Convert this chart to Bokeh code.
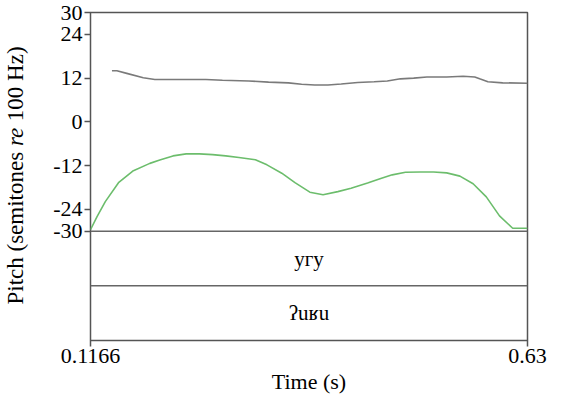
import math
from bokeh.plotting import figure
from bokeh.layouts import row
from bokeh.models import Range1d, FixedTicker, Label
from bokeh.embed import file_html
from bokeh.resources import INLINE
from bokeh.core.properties import value

# ---- data ----
t_start, t_end = 0.1166, 0.63
y_ticks = [-30, -24, -12, 0, 12, 24, 30]
y_tick_labels = ["-30", "-24", "-12", "0", "12", "24", "30"]
x_ticks = [0.1166, 0.63]
x_tick_labels = ["0.1166", "0.63"]

gray_time = [0.1418, 0.1476, 0.1592, 0.1786, 0.1922, 0.2251, 0.2522, 0.2716,
             0.3026, 0.3258, 0.3491, 0.3646, 0.3801, 0.3956, 0.4111, 0.4305,
             0.4498, 0.4653, 0.4808, 0.4963, 0.5118, 0.5351, 0.5544, 0.5680,
             0.5738, 0.5835, 0.6009, 0.6300]
gray_pitch = [14.0, 14.0, 13.3, 12.1, 11.6, 11.6, 11.6, 11.4,
              11.2, 10.9, 10.7, 10.3, 10.1, 10.1, 10.4, 10.8,
              11.0, 11.2, 11.8, 12.0, 12.3, 12.3, 12.5, 12.3,
              11.8, 11.0, 10.7, 10.6]

green_time = [0.1166, 0.1243, 0.1340, 0.1495, 0.1670, 0.1863, 0.1980, 0.2135,
              0.2290, 0.2445, 0.2600, 0.2755, 0.2910, 0.3103, 0.3239, 0.3413,
              0.3568, 0.3743, 0.3898, 0.4072, 0.4227, 0.4421, 0.4576, 0.4711,
              0.4866, 0.5041, 0.5196, 0.5351, 0.5506, 0.5661, 0.5816, 0.5971,
              0.6126, 0.6300]
green_pitch = [-29.6, -26.0, -21.9, -16.7, -13.4, -11.4, -10.5, -9.35,
               -8.8, -8.8, -9.0, -9.35, -9.8, -10.4, -11.8, -14.1,
               -16.7, -19.3, -20.0, -19.15, -18.2, -16.8, -15.55, -14.55,
               -13.85, -13.75, -13.75, -14.0, -14.9, -17.0, -20.6, -25.8,
               -29.2, -29.2]

tier_bounds = [-30, -45, -60]
tier_labels = ["угу", "ʔuʁu"]

# ---- styles ----
SERIF = "Liberation Serif"
FRAME = "#555555"
H = 396
LEFT_W = 30
TOP = 12

p = figure(width=547 - LEFT_W, height=H, output_backend="svg", toolbar_location=None,
           x_range=Range1d(t_start, t_end), y_range=Range1d(tier_bounds[-1], y_ticks[-1]),
           min_border_left=60, min_border_right=20, min_border_top=TOP, min_border_bottom=0)
p.background_fill_color = None
p.border_fill_color = "white"
p.grid.visible = False
p.outline_line_color = FRAME
p.outline_line_width = 1.5

p.yaxis.ticker = FixedTicker(ticks=y_ticks)
p.yaxis.major_label_overrides = {t: l for t, l in zip(y_ticks, y_tick_labels)}
p.xaxis.ticker = FixedTicker(ticks=x_ticks)
p.xaxis.major_label_overrides = {t: l for t, l in zip(x_ticks, x_tick_labels)}
for ax in (p.xaxis[0], p.yaxis[0]):
    ax.axis_line_color = None
    ax.major_tick_line_color = FRAME
    ax.major_tick_line_width = 1.5
    ax.major_tick_out = 6
    ax.major_tick_in = 0
    ax.minor_tick_line_color = None
    ax.major_label_text_font = SERIF
    ax.major_label_text_font_size = "22px"
    ax.major_label_text_color = "black"
p.yaxis.major_label_standoff = 2
p.xaxis.major_label_standoff = 2
p.xaxis.axis_label = "Time (s)"
p.xaxis.axis_label_text_font = SERIF
p.xaxis.axis_label_text_font_size = "22px"
p.xaxis.axis_label_text_font_style = "normal"
p.xaxis.axis_label_text_color = "black"
p.xaxis.axis_label_standoff = 3

# pitch curves
p.line(gray_time, gray_pitch, line_color="#7a7a7a", line_width=1.6)
p.line(green_time, green_pitch, line_color="#6cbd6c", line_width=1.6)

# tier boundaries
for b in tier_bounds[:-1]:
    p.line([t_start, t_end], [b, b], line_color="#666666", line_width=1.5)

# tier labels
mid_t = (t_start + t_end) / 2
tier_y = [(tier_bounds[i] + tier_bounds[i + 1]) / 2 for i in range(len(tier_labels))]
p.text(x=[mid_t] * len(tier_labels), y=tier_y, text=tier_labels,
       text_font=value(SERIF), text_font_size="21px", text_color="black",
       text_align="center", text_baseline="middle")

# ---- y axis label (with italic "re") in a narrow side canvas ----
# (the row aligns this canvas' frame with the main frame)
q = figure(width=LEFT_W, height=H, output_backend="svg", toolbar_location=None,
           title=None, x_axis_type=None, y_axis_type=None,
           x_range=Range1d(0, 1), y_range=Range1d(0, 1),
           min_border_left=0, min_border_right=0, min_border_top=0, min_border_bottom=0)
q.grid.visible = False
q.outline_line_color = None
q.background_fill_color = None
q.border_fill_color = "white"

F = 23
NB = "\u00a0"
frame_h = 342 - TOP
parts = [("Pitch" + NB + "(semitones" + NB, "normal", 6.889),
         ("re", "italic", 0.833),
         (NB + "100" + NB + "Hz)", "normal", 3.499)]
total = sum(w for _, _, w in parts) * F
ypos = frame_h / 2 - total / 2
for txt, style, w in parts:
    q.add_layout(Label(x=15, y=ypos, x_units="screen", y_units="screen", text=txt,
                       angle=math.pi / 2, text_font=SERIF, text_font_size=f"{F}px",
                       text_font_style=style, text_color="black",
                       text_align="left", text_baseline="middle"))
    ypos += w * F

layout = row(q, p, spacing=0)
open("out.html", "w").write(file_html(layout, INLINE))
